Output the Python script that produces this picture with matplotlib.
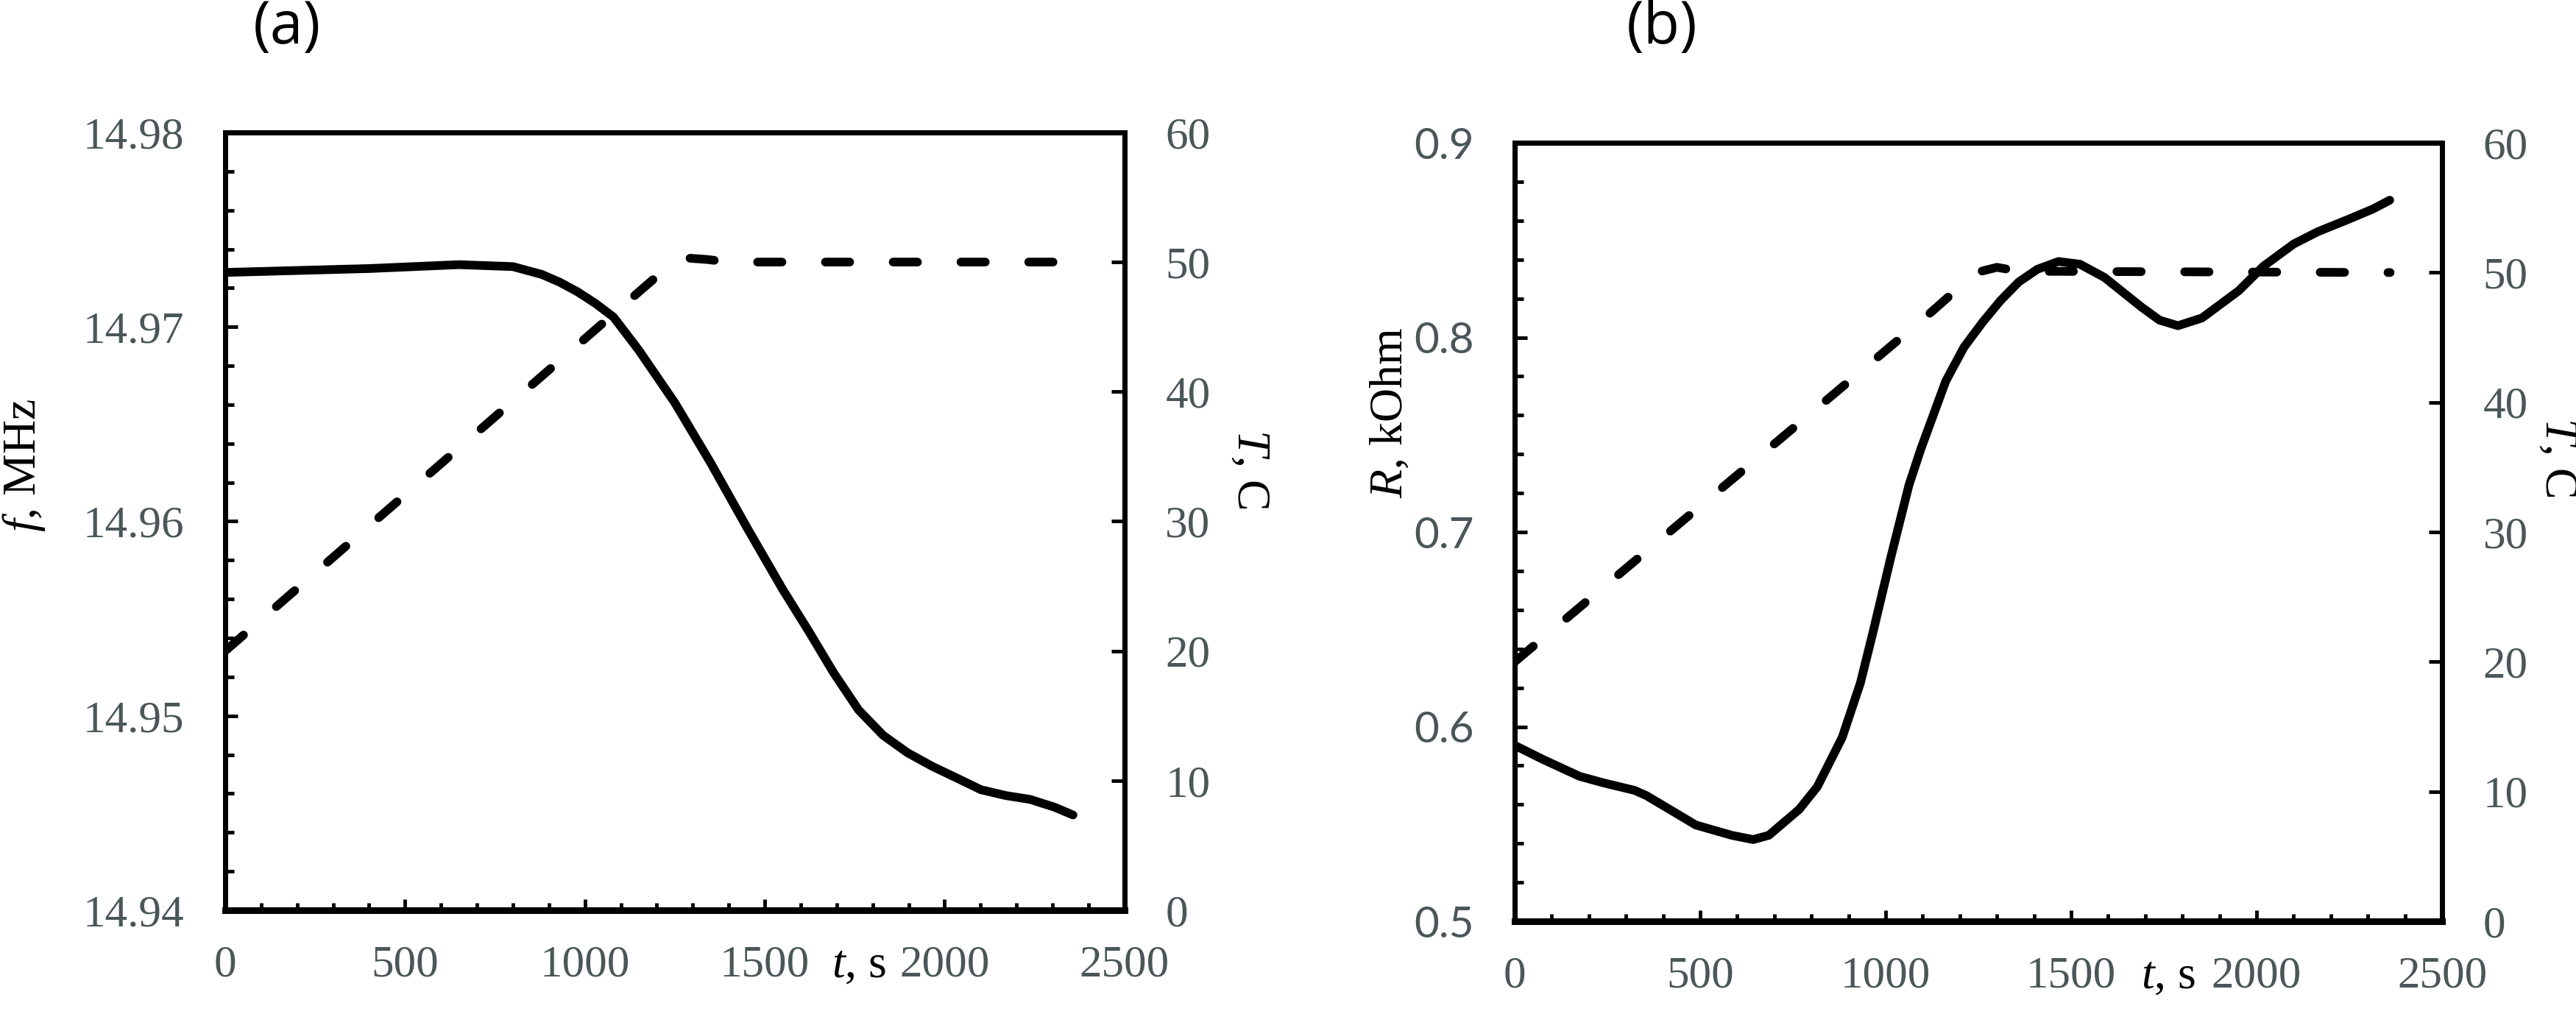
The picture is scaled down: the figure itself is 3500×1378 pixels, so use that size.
import matplotlib
matplotlib.use('Agg')
import matplotlib.pyplot as plt
from matplotlib.ticker import MultipleLocator, FormatStrFormatter

# Шрифти для формул (курсивні літери в підписах осей)
plt.rcParams['mathtext.fontset'] = 'custom'
plt.rcParams['mathtext.it'] = 'Liberation Serif:italic'
plt.rcParams['mathtext.rm'] = 'Liberation Serif'

# Панель (a): частота та температура
t_f = [0, 200, 400, 650, 800, 880, 930, 980, 1030, 1080, 1150, 1250, 1350,
       1450, 1550, 1624, 1692, 1761, 1829, 1897, 1966, 2034, 2101, 2170,
       2238, 2306, 2357]
f_mhz = [14.9728, 14.9729, 14.9730, 14.9732, 14.9731, 14.9727, 14.9723,
         14.9718, 14.9712, 14.9705, 14.9688, 14.9661, 14.9630, 14.9597,
         14.9565, 14.9543, 14.9522, 14.9503, 14.9490, 14.9481, 14.9474,
         14.9468, 14.9462, 14.9459, 14.9457, 14.9453, 14.9449]
t_temp_a = [0, 1200, 1250, 1290, 1340, 1400, 2360]
temp_a = [20, 48.9, 49.9, 50.3, 50.2, 50.0, 50.0]

# Панель (b): опір та температура
t_r = [0, 76, 175, 240, 323, 355, 438, 488, 585, 643, 685, 767, 816, 883,
       932, 965, 1014, 1063, 1095, 1162, 1211, 1261, 1310, 1359, 1409, 1466,
       1524, 1590, 1689, 1738, 1788, 1853, 1952, 2018, 2100, 2165, 2248,
       2314, 2359]
r_kohm = [0.5904, 0.5832, 0.5745, 0.5711, 0.5673, 0.5646, 0.5552, 0.5495,
          0.5442, 0.5420, 0.5442, 0.5575, 0.5692, 0.5945, 0.6225, 0.6478,
          0.6870, 0.7242, 0.7427, 0.7775, 0.7949, 0.8077, 0.8190, 0.8285,
          0.8350, 0.8390, 0.8376, 0.8308, 0.8157, 0.8089, 0.8060, 0.8100,
          0.8240, 0.8365, 0.8480, 0.8543, 0.8607, 0.8660, 0.8705]
t_temp_b = [0, 1113, 1200, 1244, 1300, 1360, 2360]
temp_b = [20, 46.7, 48.9, 50.0, 50.4, 50.1, 50.0]

x_ticks = [0, 500, 1000, 1500, 2000, 2500]

SERIF = 'Liberation Serif'
TICK_COLOR = '#4a5759'
TICK_SIZE = 44
LW = 8.5


def style_axes(ax, twin, ylim, ymajor, yminor, yfmt, yfont, ysize):
    ax.set_xlim(0, 2500)
    ax.set_ylim(*ylim)
    twin.set_ylim(0, 60)
    ax.set_xticks(x_ticks)
    ax.xaxis.set_minor_locator(MultipleLocator(100))
    ax.yaxis.set_major_locator(MultipleLocator(ymajor))
    ax.yaxis.set_minor_locator(MultipleLocator(yminor))
    ax.yaxis.set_major_formatter(FormatStrFormatter(yfmt))
    twin.yaxis.set_major_locator(MultipleLocator(10))
    twin.yaxis.set_major_formatter(FormatStrFormatter('%d'))

    for a in (ax, twin):
        for side in a.spines.values():
            side.set_linewidth(5)
        a.spines['bottom'].set_linewidth(6.5)

    ax.tick_params(axis='x', which='major', direction='in', length=11,
                   width=3.5, pad=34, labelsize=TICK_SIZE, labelcolor=TICK_COLOR)
    ax.tick_params(axis='x', which='minor', direction='in', length=7.5, width=3.5)
    ax.tick_params(axis='y', which='major', direction='in', length=12,
                   width=3.5, pad=40, labelsize=ysize, labelcolor=TICK_COLOR)
    ax.tick_params(axis='y', which='minor', direction='in', length=8.5, width=3.5)
    twin.tick_params(axis='y', which='major', direction='in', length=13,
                     width=3.5, pad=40, labelsize=TICK_SIZE, labelcolor=TICK_COLOR)
    for lbl in ax.get_xticklabels() + twin.get_yticklabels():
        lbl.set_family(SERIF)
    for lbl in ax.get_yticklabels():
        lbl.set_family(yfont)


fig = plt.figure(figsize=(35, 13.78), dpi=100)

ax_a = fig.add_axes([0.0874, 0.1023, 0.3491, 0.7671])
tw_a = ax_a.twinx()
ax_a.plot(t_f, f_mhz, color='black', lw=LW, solid_capstyle='round',
          solid_joinstyle='round')
tw_a.plot(t_temp_a, temp_a, color='black', lw=LW, dashes=(2.8, 5.0),
          dash_capstyle='round')
style_axes(ax_a, tw_a, (14.94, 14.98), 0.01, 0.002, '%.2f', SERIF, TICK_SIZE)

ax_b = fig.add_axes([0.588, 0.0914, 0.36, 0.7678])
tw_b = ax_b.twinx()
ax_b.plot(t_r, r_kohm, color='black', lw=LW, solid_capstyle='round',
          solid_joinstyle='round')
tw_b.plot(t_temp_b, temp_b, color='black', lw=LW, dashes=(2.8, 5.0),
          dash_capstyle='round')
style_axes(ax_b, tw_b, (0.5, 0.9), 0.1, 0.02, '%.1f', 'Lato', 42)

# Підписи осей
lab = dict(family=SERIF, fontsize=46, color='black', ha='center', va='center')
fig.text(33 / 3500, 1 - 632 / 1378, r'$f$, MHz', rotation=90, **lab)
fig.text(1697 / 3500, 1 - 637 / 1378, r'$T$, C', rotation=270, **lab)
fig.text(1890 / 3500, 1 - 561 / 1378, r'$R$, kOhm', rotation=90, **lab)
fig.text(3474 / 3500, 1 - 621 / 1378, r'$T$, C', rotation=270, **lab)
fig.text(1167 / 3500, 1 - 1313 / 1378, r'$t$, s', **lab)
fig.text(2946 / 3500, 1 - 1328 / 1378, r'$t$, s', **lab)

fig.text(390 / 3500, 1 - 38 / 1378, '(a)', family='Open Sans', fontsize=58,
         ha='center', va='center')
fig.text(2258 / 3500, 1 - 38 / 1378, '(b)', family='Open Sans', fontsize=58,
         ha='center', va='center')

fig.savefig('out.png', dpi=100, facecolor='white')
